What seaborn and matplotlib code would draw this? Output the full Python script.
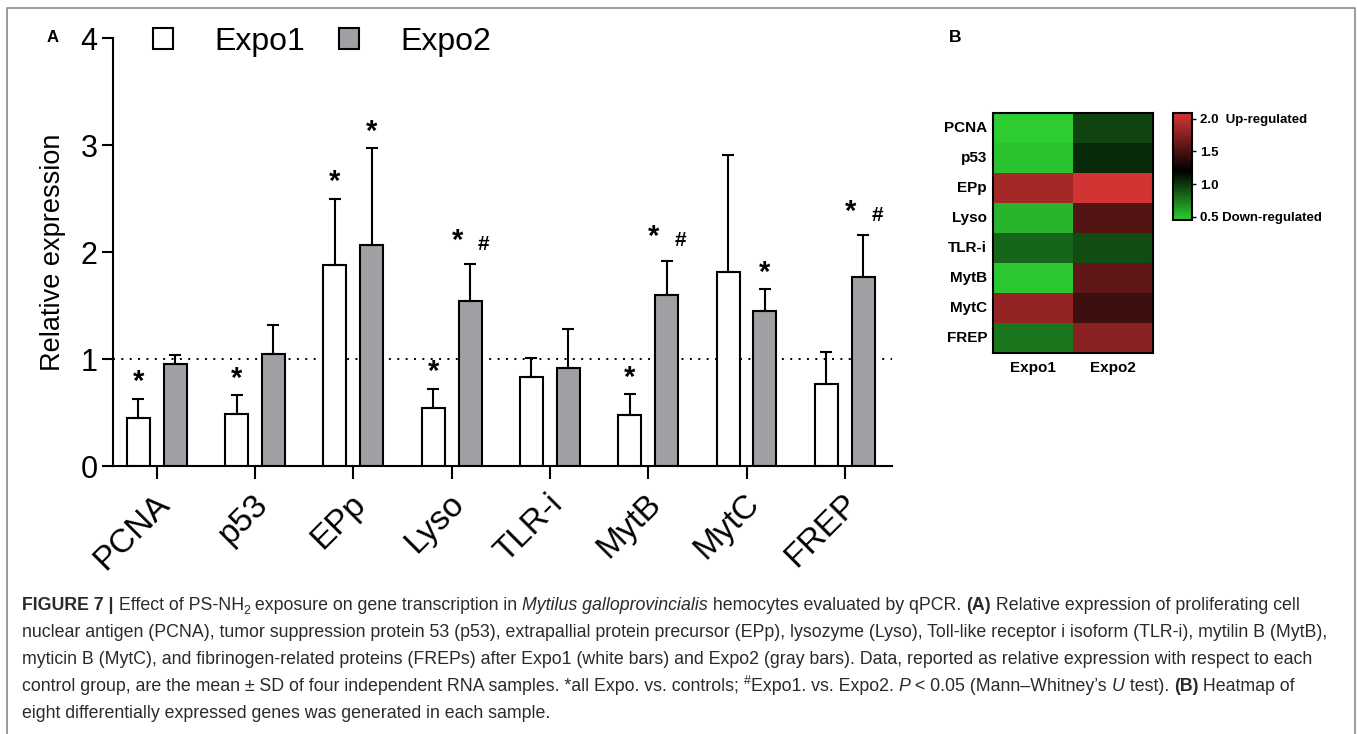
import numpy as np
import pandas as pd
import matplotlib
matplotlib.use("Agg")
import matplotlib.pyplot as plt
import matplotlib.transforms as mtransforms
from matplotlib.colors import LinearSegmentedColormap
from matplotlib.patches import Patch
from matplotlib.lines import Line2D
import seaborn as sns

# ---------------- data ----------------
genes = ["PCNA", "p53", "EPp", "Lyso", "TLR-i", "MytB", "MytC", "FREP"]
groups = ["Expo1", "Expo2"]
expo1_mean = [0.45, 0.49, 1.88, 0.54, 0.83, 0.48, 1.81, 0.77]
expo1_sd = [0.18, 0.17, 0.62, 0.18, 0.18, 0.19, 1.10, 0.30]
expo2_mean = [0.95, 1.05, 2.07, 1.54, 0.92, 1.60, 1.45, 1.77]
expo2_sd = [0.09, 0.27, 0.90, 0.35, 0.36, 0.32, 0.20, 0.39]
sig_expo1 = ["*", "*", "*", "*", "", "*", "", ""]
sig_expo2 = ["", "", "*", "*#", "", "*#", "*", "*#"]
y_ticks = [0, 1, 2, 3, 4]
cbar_ticks = [0.5, 1.0, 1.5, 2.0]
cbar_ticklabels = ["0.5 Down-regulated", "1.0", "1.5", "2.0  Up-regulated"]

caption_lines = [
    [("FIGURE 7 |", "b"), (" Effect of PS-NH", "n"), ("2", "sub"),
     (" exposure on gene transcription in ", "n"), ("Mytilus galloprovincialis", "i"),
     (" hemocytes evaluated by qPCR. ", "n"), ("(A)", "b"),
     (" Relative expression of proliferating cell", "n")],
    [("nuclear antigen (PCNA), tumor suppression protein 53 (p53), extrapallial protein precursor (EPp), "
      "lysozyme (Lyso), Toll-like receptor i isoform (TLR-i), mytilin B (MytB),", "n")],
    [("myticin B (MytC), and fibrinogen-related proteins (FREPs) after Expo1 (white bars) and Expo2 "
      "(gray bars). Data, reported as relative expression with respect to each", "n")],
    [("control group, are the mean \u00b1 SD of four independent RNA samples. *all Expo. vs. controls; ", "n"),
     ("#", "sup"), ("Expo1. vs. Expo2. ", "n"), ("P", "i"), (" < 0.05 (Mann\u2013Whitney\u2019s ", "n"),
     ("U", "i"), (" test). ", "n"), ("(B)", "b"), (" Heatmap of", "n")],
    [("eight differentially expressed genes was generated in each sample.", "n")],
]

# ---------------- style ----------------
W, H = 1357, 734
sns.set_theme(style="ticks")
plt.rcParams["font.family"] = ["Liberation Sans", "DejaVu Sans"]
plt.rcParams["axes.edgecolor"] = "black"
plt.rcParams["xtick.color"] = "black"
plt.rcParams["ytick.color"] = "black"
plt.rcParams["text.color"] = "black"
plt.rcParams["axes.labelcolor"] = "black"
GRAY = "#a0a0a4"

fig = plt.figure(figsize=(W / 100, H / 100), dpi=100)
fig.patch.set_facecolor("white")

# ---------------- panel A ----------------
ax = fig.add_axes([113 / W, 1 - 466 / H, (892 - 113) / W, (466 - 38) / H])
df = pd.DataFrame({
    "gene": genes * 2,
    "group": [groups[0]] * len(genes) + [groups[1]] * len(genes),
    "value": expo1_mean + expo2_mean,
})
sns.barplot(data=df, x="gene", y="value", hue="group", order=genes, hue_order=groups,
            palette={"Expo1": "white", "Expo2": GRAY}, saturation=1,
            edgecolor="black", linewidth=1.5, width=0.75, gap=0.376,
            errorbar=None, legend=False, ax=ax)

ax.axhline(1, color="black", lw=1.4, ls=(0, (1, 3.3)), zorder=0.5)

for cont, means, sds, sigs in zip(ax.containers, [expo1_mean, expo2_mean],
                                   [expo1_sd, expo2_sd], [sig_expo1, sig_expo2]):
    xs = [b.get_x() + b.get_width() / 2 for b in cont]
    ax.errorbar(xs, means, yerr=[np.zeros(len(means)), sds], fmt="none", ecolor="black",
                elinewidth=1.5, capsize=4.3, capthick=1.5, zorder=3)
    for x, m, s, sig in zip(xs, means, sds, sigs):
        top = m + s
        star_tr = mtransforms.offset_copy(ax.transData, fig=fig, y=-0.58 * 21, units="points")
        hash_tr = mtransforms.offset_copy(ax.transData, fig=fig, y=-0.35 * 15, units="points")
        if sig == "*":
            ax.text(x, top + 0.24, "*", transform=star_tr, ha="center", va="baseline",
                    fontsize=21, fontweight="bold")
        elif sig == "*#":
            ax.text(x - 0.13, top + 0.30, "*", transform=star_tr, ha="center", va="baseline",
                    fontsize=21, fontweight="bold")
            ax.text(x + 0.14, top + 0.20, "#", transform=hash_tr, ha="center", va="baseline",
                    fontsize=15, fontweight="bold")

ax.set_xlim(-0.445, 7.48)
ax.set_ylim(0, 4)
ax.set_yticks(y_ticks)
ax.set_yticklabels([str(t) for t in y_ticks])
sns.despine(ax=ax)
for sp in ("left", "bottom"):
    ax.spines[sp].set_linewidth(1.5)
    ax.spines[sp].set_color("black")
ax.tick_params(axis="y", length=8, width=1.5, labelsize=22, pad=3)
ax.tick_params(axis="x", length=9, width=1.5, labelsize=24, pad=15)
ax.set_xticks(range(len(genes)))
ax.set_xticklabels(genes, rotation=45, ha="right", va="center", rotation_mode="anchor")
shift = mtransforms.ScaledTranslation(8 / 100, 0, fig.dpi_scale_trans)
for lab in ax.get_xticklabels():
    lab.set_transform(lab.get_transform() + shift)
ax.set_xlabel("")
ax.set_ylabel("Relative expression", fontsize=19.5)
ax.yaxis.set_label_coords(-0.06, 0.5)

handles = [Patch(facecolor="white", edgecolor="black", lw=1.5),
           Patch(facecolor=GRAY, edgecolor="black", lw=1.5)]
fig.legend(handles, groups, loc="center left", bbox_to_anchor=(153 / W, 1 - 42 / H),
           bbox_transform=fig.transFigure, ncol=2, frameon=False, fontsize=23,
           handlelength=0.63, handleheight=0.63, handletextpad=1.28, columnspacing=1.07,
           borderpad=0, borderaxespad=0)

fig.text(53 / W, 1 - 38 / H, "A", fontsize=12, fontweight="bold", ha="center", va="center")
fig.text(955 / W, 1 - 38 / H, "B", fontsize=12.5, fontweight="bold", ha="center", va="center")

# ---------------- panel B ----------------
vmin, vmax, vmid = 0.45, 2.09, 1.2
cmap = LinearSegmentedColormap.from_list(
    "gkr",
    [(0.0, (45 / 255, 205 / 255, 50 / 255)),
     ((vmid - vmin) / (vmax - vmin), (0, 0, 0)),
     (1.0, (215 / 255, 52 / 255, 52 / 255))])
hax = fig.add_axes([993 / W, 1 - 353 / H, 160 / W, 240 / H])
cax = fig.add_axes([1173 / W, 1 - 220 / H, 19 / W, 107 / H])
mat = pd.DataFrame({groups[0]: expo1_mean, groups[1]: expo2_mean}, index=genes)
sns.heatmap(mat, ax=hax, cbar_ax=cax, cmap=cmap, vmin=vmin, vmax=vmax,
            cbar_kws={"ticks": cbar_ticks})
hax.tick_params(axis="y", length=0, labelsize=11, pad=4.3, rotation=0)
hax.tick_params(axis="x", length=0, labelsize=11, pad=6)
for lab in hax.get_xticklabels() + hax.get_yticklabels():
    lab.set_fontweight("bold")
for sp in hax.spines.values():
    sp.set_visible(True)
    sp.set_color("black")
    sp.set_linewidth(1.5)
cbar = hax.collections[0].colorbar
cbar.set_ticks(cbar_ticks)
cbar.set_ticklabels(cbar_ticklabels)
cbar.outline.set_edgecolor("black")
cbar.outline.set_linewidth(1.5)
cax.tick_params(labelsize=9.5, length=3, width=1, pad=3)
for lab in cax.get_yticklabels():
    lab.set_fontweight("bold")

# ---------------- frame ----------------
fig.add_artist(Line2D([7 / W, 7 / W, 1355 / W, 1355 / W], [0, 1 - 8 / H, 1 - 8 / H, 0],
                      transform=fig.transFigure, color="#808080", lw=1.1))

# ---------------- caption ----------------
renderer = fig.canvas.get_renderer()
CAP_COLOR = "#2a2a2a"
CAP_SIZE = 12.8


def seg_props(kind, size):
    props = dict(fontsize=size, color=CAP_COLOR)
    dy = 0.0
    if kind == "b":
        props["fontweight"] = "bold"
    elif kind == "i":
        props["fontstyle"] = "italic"
    elif kind == "sub":
        props["fontsize"] = size * 0.7
        dy = -0.22 * size
    elif kind == "sup":
        props["fontsize"] = size * 0.7
        dy = 0.40 * size
    return props, dy


def text_width(s, props):
    t1 = fig.text(0, 0, "x" + s + "x", **props)
    t2 = fig.text(0, 0, "xx", **props)
    w = t1.get_window_extent(renderer).width - t2.get_window_extent(renderer).width
    t1.remove()
    t2.remove()
    return w


baselines = [610, 637, 664, 691, 718]
for segs, yb in zip(caption_lines, baselines):
    x = 22.0
    for s, kind in segs:
        props, dy = seg_props(kind, CAP_SIZE)
        fig.text(x / W, (H - yb) / H + dy * (100 / 72) / H, s, ha="left", va="baseline", **props)
        x += text_width(s, props)

fig.savefig("out.png", dpi=100, facecolor="white")
